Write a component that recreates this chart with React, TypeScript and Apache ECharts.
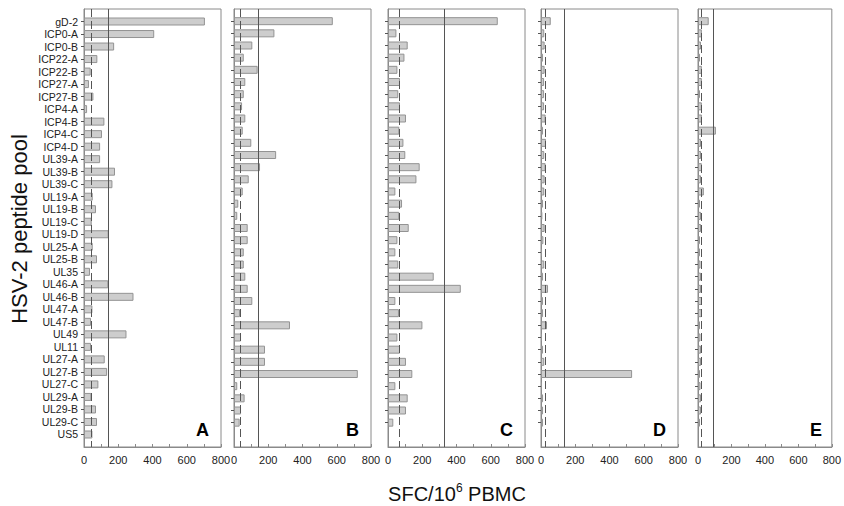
import React, { useEffect, useRef } from 'react';
import * as echarts from 'echarts';

const categories = [
  'gD-2', 'ICP0-A', 'ICP0-B', 'ICP22-A', 'ICP22-B', 'ICP27-A', 'ICP27-B', 'ICP4-A',
  'ICP4-B', 'ICP4-C', 'ICP4-D', 'UL39-A', 'UL39-B', 'UL39-C', 'UL19-A', 'UL19-B',
  'UL19-C', 'UL19-D', 'UL25-A', 'UL25-B', 'UL35', 'UL46-A', 'UL46-B', 'UL47-A',
  'UL47-B', 'UL49', 'UL11', 'UL27-A', 'UL27-B', 'UL27-C', 'UL29-A', 'UL29-B',
  'UL29-C', 'US5',
];

const panelLetters = ['A', 'B', 'C', 'D', 'E'];

const valuesA = [706, 410, 176, 78, 39, 29, 55, 18, 119, 105, 94, 94, 181, 166, 51, 70, 45, 144, 51, 76, 35, 142, 289, 49, 41, 248, 41, 121, 135, 84, 43, 70, 76, 49];
const valuesB = [577, 236, 107, 57, 138, 66, 57, 47, 66, 51, 101, 246, 152, 86, 51, 25, 19, 80, 80, 57, 57, 66, 80, 107, 35, 327, 41, 181, 181, 723, 19, 62, 41, 33];
const valuesC = [641, 49, 115, 96, 55, 70, 60, 70, 105, 66, 90, 101, 185, 166, 43, 82, 66, 121, 55, 43, 60, 267, 425, 43, 64, 201, 55, 70, 105, 142, 43, 115, 105, 31];
const valuesD = [57, 19, 21, 12, 21, 18, 18, 18, 27, 12, 29, 19, 27, 21, 19, 12, 8, 21, 14, 6, 19, 12, 41, 12, 12, 35, 6, 12, 19, 532, 6, 12, 12, 12];
const valuesE = [64, 23, 18, 12, 23, 23, 12, 23, 23, 107, 18, 18, 23, 18, 35, 12, 18, 18, 12, 12, 15, 18, 18, 23, 23, 12, 15, 18, 18, 12, 15, 18, 18, 12];

const solidCutoffs = [143, 140, 329, 134, 94];
const dashedCutoffs = [43, 37, 66, 23, 18];

const xTickLabels = [0, 200, 400, 600, 800];

const allValues = [valuesA, valuesB, valuesC, valuesD, valuesE];
// panel A has one empty slot above and below; panels B-E have one above and two below
const trailingBlanks = [1, 2, 2, 2, 2];

const panelLefts = [84, 234, 388, 541, 698];
const panelWidth = 137;
const gridTop = 9;
const gridHeight = 438;

const FONT = 'Liberation Sans, Arial, sans-serif';
const TEXT = '#222222';

export default function App() {
  const ref = useRef<HTMLDivElement>(null);

  useEffect(() => {
    if (!ref.current) return;
    const chart = echarts.init(ref.current, null, { renderer: 'svg' });

    const grids: any[] = [];
    const xAxes: any[] = [];
    const yAxes: any[] = [];
    const series: any[] = [];
    const graphics: any[] = [];

    allValues.forEach((vals, p) => {
      const blanksEnd = new Array(trailingBlanks[p]).fill('');
      const cats = ['', ...categories, ...blanksEnd];
      const data = [null, ...vals, ...new Array(trailingBlanks[p]).fill(null)];

      grids.push({
        left: panelLefts[p],
        width: panelWidth,
        top: gridTop,
        height: gridHeight,
        show: true,
        borderColor: '#8a8a8a',
        borderWidth: 1,
        backgroundColor: 'transparent',
      });

      xAxes.push({
        type: 'value',
        gridIndex: p,
        min: 0,
        max: 800,
        interval: 100,
        axisLine: { show: true, lineStyle: { color: '#8a8a8a', width: 1 } },
        axisTick: { show: true, inside: true, length: 3, lineStyle: { color: '#8a8a8a' } },
        splitLine: { show: false },
        axisLabel: {
          show: true,
          color: TEXT,
          fontFamily: FONT,
          fontSize: 11,
          margin: 7,
          formatter: (v: number) => (xTickLabels.includes(v) ? String(v) : ''),
        },
      });

      yAxes.push({
        type: 'category',
        gridIndex: p,
        inverse: true,
        data: cats,
        boundaryGap: false,
        axisLine: { show: true, lineStyle: { color: '#8a8a8a', width: 1 } },
        axisTick: {
          show: true,
          length: 3,
          interval: (_i: number, v: string) => v !== '',
          lineStyle: { color: '#555555' },
        },
        splitLine: { show: false },
        axisLabel: {
          show: p === 0,
          interval: 0,
          color: TEXT,
          fontFamily: FONT,
          fontSize: 10.5,
          margin: 6,
        },
      });

      series.push({
        type: 'bar',
        xAxisIndex: p,
        yAxisIndex: p,
        data,
        barWidth: 8,
        itemStyle: { color: '#cdcdcd', borderColor: '#939393', borderWidth: 1 },
        markLine: {
          silent: true,
          symbol: 'none',
          label: { show: false },
          data: [
            { xAxis: solidCutoffs[p], lineStyle: { color: '#555555', width: 1, type: 'solid' } },
            { xAxis: dashedCutoffs[p], lineStyle: { color: '#555555', width: 1, type: [8, 4] } },
          ],
        },
      });

      graphics.push({
        type: 'text',
        left: panelLefts[p] + panelWidth - 25,
        top: 421,
        style: {
          text: panelLetters[p],
          font: `bold 18px ${FONT}`,
          fill: '#000000',
        },
      });
    });

    graphics.push({
      type: 'text',
      x: 19,
      y: 229,
      rotation: Math.PI / 2,
      style: {
        text: 'HSV-2 peptide pool',
        font: `22px ${FONT}`,
        fill: '#111111',
        align: 'center',
        verticalAlign: 'middle',
      },
    });

    graphics.push({
      type: 'text',
      x: 457,
      y: 494,
      style: {
        text: '{base|SFC/10}{sup|6}{base| PBMC}',
        fill: '#111111',
        align: 'center',
        verticalAlign: 'middle',
        rich: {
          base: { fontSize: 20, fontFamily: FONT, fill: '#111111', lineHeight: 24, verticalAlign: 'middle' },
          sup: { fontSize: 12, fontFamily: FONT, fill: '#111111', lineHeight: 12, verticalAlign: 'top' },
        },
      },
    });

    const option: any = {
      animation: false,
      textStyle: { color: TEXT, fontFamily: FONT },
      grid: grids,
      xAxis: xAxes,
      yAxis: yAxes,
      series,
      graphic: graphics,
    };

    chart.setOption(option);
    return () => chart.dispose();
  }, []);

  return (
    <div
      ref={ref}
      style={{ position: 'fixed', left: 0, top: 0, width: 844, height: 506, background: '#fff' }}
    />
  );
}
